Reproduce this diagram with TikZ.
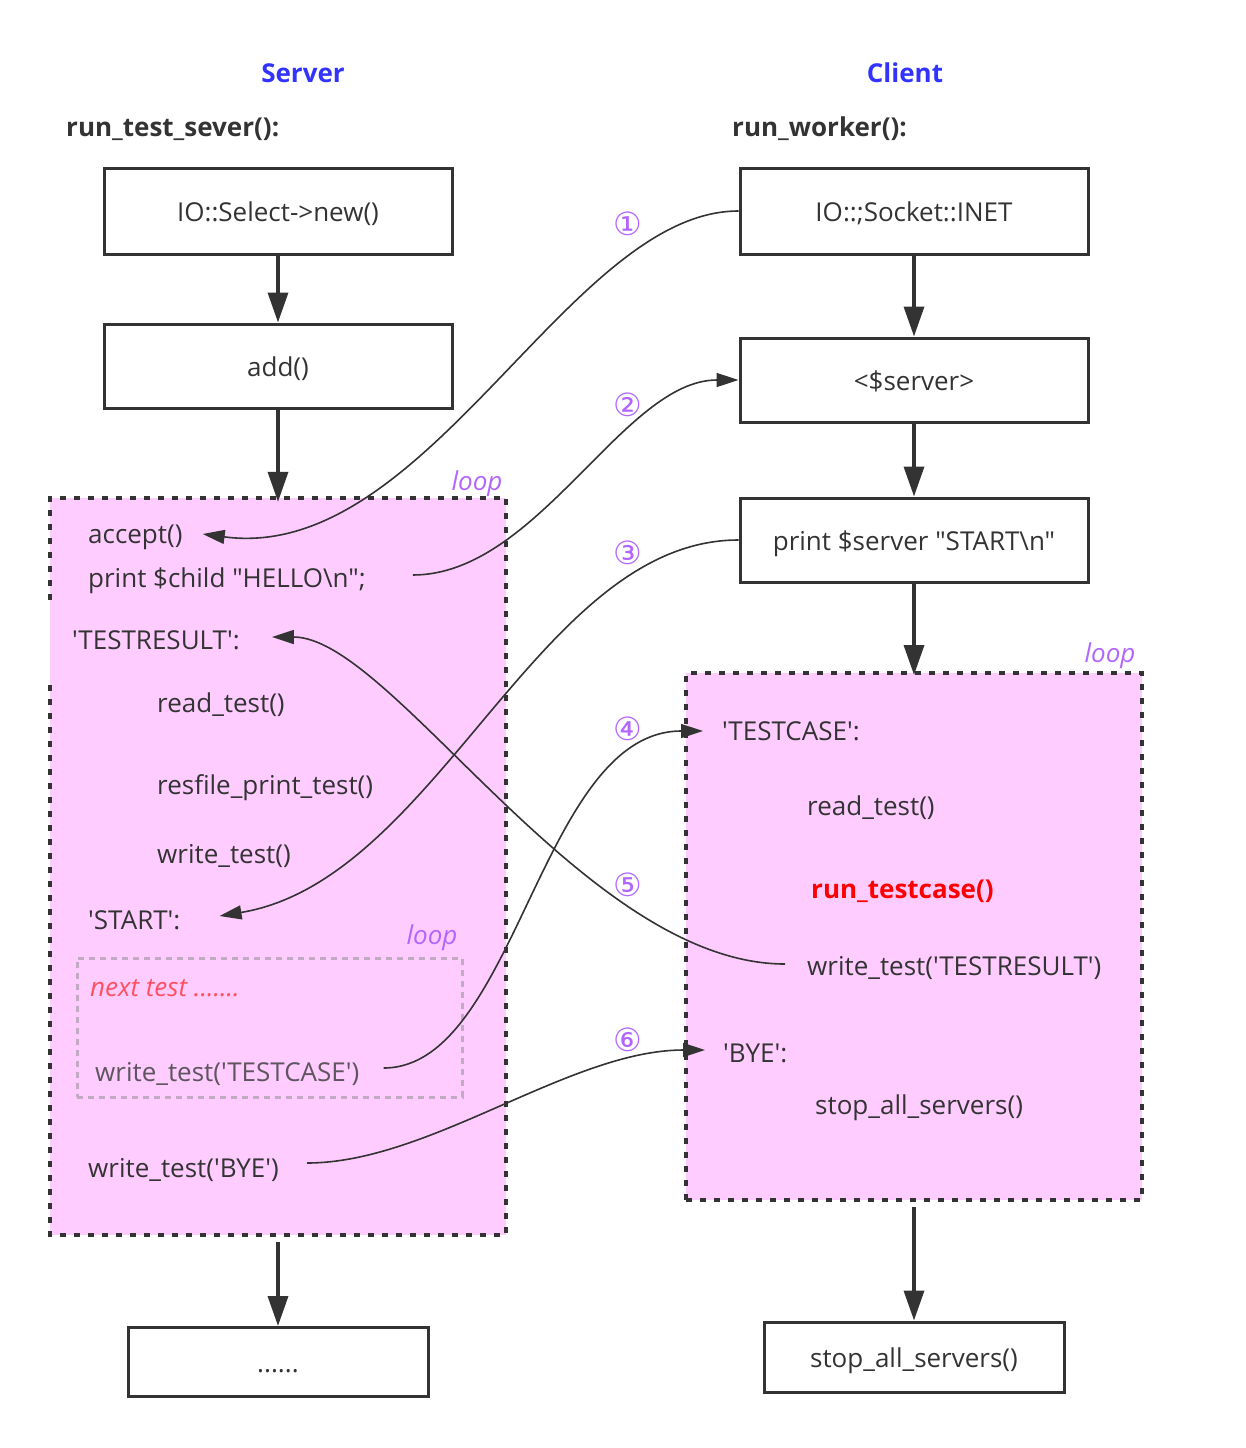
\documentclass[tikz,border=0pt]{standalone}
\usepackage{fontspec}
\usetikzlibrary{arrows.meta}
\newfontfamily\yh{Open Sans}
\newfontfamily\dv{DejaVu Sans}
\definecolor{ink}{HTML}{333333}
\definecolor{pinkc}{HTML}{FFCCFF}
\definecolor{bluec}{HTML}{3333FF}
\definecolor{loopc}{HTML}{B266FF}
\definecolor{redc}{HTML}{FF0000}
\definecolor{nextc}{HTML}{FF5060}
\definecolor{grayt}{HTML}{5E555E}
\definecolor{grayb}{HTML}{C3AAC3}
\begin{document}
\begin{tikzpicture}[x=1pt,y=-1pt,
  every node/.style={font=\yh\fontsize{26}{30}\selectfont, text=ink},
  box/.style={draw=ink, line width=3pt, minimum width=348pt, minimum height=86pt, inner sep=0pt, text height=20pt, text depth=0pt},
  txt/.style={anchor=west, inner sep=0pt, text height=18pt, text depth=0pt},
  flow/.style={draw=ink, line width=3.5pt, -{Triangle[length=30pt,width=20pt]}},
  link/.style={draw=ink, line width=1.6pt},
  linkarr/.style={link, -{Triangle[length=22pt,width=14pt]}},
  looplbl/.style={font=\yh\itshape\fontsize{26}{30}\selectfont, text=loopc, inner sep=0pt},
  num/.style={font=\dv\fontsize{32}{36}\selectfont, text=loopc, inner sep=0pt},
  loopfill/.style={fill=pinkc, inner sep=0pt},
  loopb/.style={draw=ink, line width=4pt, dash pattern=on 6pt off 8pt},
  head/.style={font=\yh\bfseries\fontsize{26}{30}\selectfont, text=bluec, inner sep=0pt},
  fname/.style={txt, font=\yh\bfseries\fontsize{26}{30}\selectfont},
]
\useasboundingbox (0,0) rectangle (1245,1448);

% headings
\node[head] (hs) at (303,73) {Server};
\node[head] (hc) at (905,73) {Client};
\node[fname] (fs) at (66,127) {run\_test\_sever():};
\node[fname] (fc) at (732,127) {run\_worker():};

% left boxes
\node[box] (sel) at (278,211) {IO::Select->new()};
\node[box, minimum height=84pt] (add) at (278,366) {add()};
\node[box, minimum width=300pt, minimum height=69pt] (dots) at (278,1362) {......};

% right boxes
\node[box] (sock) at (914,211) {IO::;Socket::INET};
\node[box, minimum height=84pt] (srv) at (914,380) {<\$server>};
\node[box, minimum height=84pt] (stb) at (914,540) {print \$server "START\textbackslash n"};
\node[box, minimum width=300pt, minimum height=70pt] (stop) at (914,1357) {stop\_all\_servers()};

% loop areas
\node[loopfill, minimum width=456pt, minimum height=737pt] (lloop) at (278,866.5) {};
\draw[loopb] (lloop.north west) ++(0,102) -- (lloop.north west) -- (lloop.north east)
   -- (lloop.south east) -- (lloop.south west) -- ++(0,-552);
\node[loopfill, loopb, minimum width=456pt, minimum height=527pt] (rloop) at (914,936.5) {};
\node[looplbl] (ll1) at (477,484) {loop};
\node[looplbl] (ll2) at (1110,656) {loop};

% inner loop
\node[draw=grayb, line width=3pt, dash pattern=on 6pt off 5pt, minimum width=385pt, minimum height=139pt, inner sep=0pt] (inner) at (269.5,1027.5) {};
\node[looplbl] (ll3) at (432,938) {loop};

% left texts
\node[txt] (acc) at (88,534) {accept()};
\node[txt] (hello) at (88,578) {print \$child "HELLO\textbackslash n";};
\node[txt] (tres) at (72,640) {'TESTRESULT':};
\node[txt] (rt1) at (157,703) {read\_test()};
\node[txt] (rp) at (157,785) {resfile\_print\_test()};
\node[txt] (wt) at (157,854) {write\_test()};
\node[txt] (st) at (88,920) {'START':};
\node[txt, font=\yh\itshape\fontsize{26}{30}\selectfont, text=nextc] (nx) at (90,987) {next test .......};
\node[txt, text=grayt] (wtc) at (95,1072) {write\_test('TESTCASE')};
\node[txt] (wbye) at (88,1168) {write\_test('BYE')};

% right texts
\node[txt] (tcase) at (722,731) {'TESTCASE':};
\node[txt] (rt2) at (807,806) {read\_test()};
\node[txt, font=\yh\bfseries\fontsize{26}{30}\selectfont, text=redc] (run) at (811,889) {run\_testcase()};
\node[txt] (wtr) at (807,966) {write\_test('TESTRESULT')};
\node[txt] (bye) at (723,1053) {'BYE':};
\node[txt] (sas) at (815,1105) {stop\_all\_servers()};

% vertical flow
\draw[flow] (sel) -- (add);
\draw[flow] (add) -- ([yshift=-4pt]lloop.north);
\draw[flow, shorten <=7pt] (lloop.south) -- (dots);
\draw[flow] (sock) -- (srv);
\draw[flow] (srv) -- (stb);
\draw[flow] (stb) -- ([yshift=-4pt]rloop.north);
\draw[flow, shorten <=5pt] (rloop.south) -- (stop);

% messages
\draw[linkarr] (sock.west) .. controls +(-170,0) and +(225,30) .. ([xshift=20pt]acc.east);
\draw[linkarr] ([xshift=47pt,yshift=3pt]hello.east) .. controls +(125,0) and +(-115,0) .. (srv.west);
\draw[linkarr] (stb.west) .. controls +(-200,0) and +(218,-36) .. ([xshift=39pt,yshift=4pt]st.east);
\draw[linkarr] ([xshift=24pt,yshift=4pt]wtc.east) .. controls +(133,0) and +(-163,0) .. ([xshift=-19pt]tcase.west);
\draw[linkarr] ([xshift=-22pt,yshift=2pt]wtr.west) .. controls +(-200,0) and +(120,0) .. ([xshift=32pt,yshift=3pt]tres.east);
\draw[linkarr] ([xshift=28pt,yshift=5pt]wbye.east) .. controls +(123,0) and +(-135,0) .. ([xshift=-18pt,yshift=3pt]bye.west);

% numbers
\node[num] (n1) at (628,224) {①};
\node[num] (n2) at (628,405) {②};
\node[num] (n3) at (628,553) {③};
\node[num] (n4) at (628,729) {④};
\node[num] (n5) at (628,885) {⑤};
\node[num] (n6) at (628,1040) {⑥};
\end{tikzpicture}
\end{document}
